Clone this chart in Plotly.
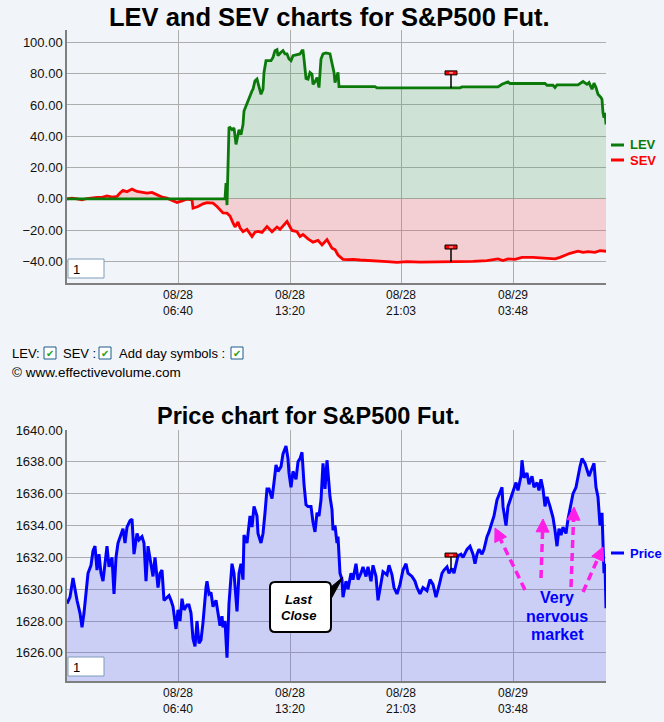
import numpy as np
import plotly.graph_objects as go

W, H = 664, 722

# ── Data ─────────────────────────────────────────────────────────
# x axis is bar index (one bar per column); ticks are labelled with the bar time
tick_idx = [111, 223, 334, 446]
tick_text = ['08/28<br>06:40', '08/28<br>13:20', '08/28<br>21:03', '08/29<br>03:48']

lev_idx = [0, 158, 159, 160, 162, 163, 165, 167, 169, 170,
           172, 174, 176, 177, 179, 181, 183, 185, 186, 188,
           190, 192, 194, 196, 197, 199, 201, 204, 206, 208,
           210, 211, 214, 216, 218, 220, 222, 224, 226, 228,
           230, 233, 235, 236, 237, 239, 241, 243, 245, 246,
           248, 250, 252, 254, 256, 259, 263, 265, 267, 268,
           270, 271, 272, 308, 310, 393, 395, 431, 435, 441,
           443, 478, 480, 486, 488, 490, 511, 515, 516, 520,
           522, 525, 527, 529, 531, 534, 535, 536, 537, 538, 539]
lev = [0, 0, 10, -4, 45.3, 45.6, 44.2, 45.3, 34.8, 37.8,
       44.2, 41.0, 47.5, 56.1, 59.3, 63.6, 66.8, 69.0, 70.0, 75.4,
       76.5, 71.3, 66.8, 70.0, 80.8, 88.3, 88.3, 88.3, 90.4, 94.7,
       95.4, 91.5, 93.7, 94.7, 92.6, 92.6, 89.4, 88.3, 91.5, 91.9,
       91.9, 92.6, 94.7, 94.7, 89.4, 76.9, 76.5, 80.8, 79.7, 73.2,
       74.8, 77.5, 71.1, 89.4, 92.6, 93.2, 92.6, 87.2, 80.8, 74.3,
       78.6, 80.8, 71.7, 71.7, 70.9, 70.9, 71.5, 71.5, 73.2, 74.7,
       73.7, 73.7, 72.6, 72.6, 71.1, 72.8, 72.8, 74.3, 75.0, 73.2,
       74.3, 70.0, 73.9, 71.1, 66.8, 64.7, 63.6, 55.0, 51.8, 55.0, 47.5]

sev_idx = [0, 5, 10, 15, 20, 25, 30, 35, 40, 45,
           50, 53, 56, 60, 65, 70, 75, 80, 85, 90,
           95, 100, 105, 110, 115, 120, 125, 126, 131, 136,
           140, 146, 150, 156, 160, 163, 166, 168, 171, 173,
           176, 180, 185, 188, 191, 195, 200, 205, 210, 213,
           220, 225, 230, 233, 236, 241, 246, 251, 255, 260,
           265, 268, 271, 276, 281, 286, 293, 300, 313, 320,
           330, 340, 353, 370, 386, 406, 420, 431, 436, 441,
           448, 455, 466, 480, 488, 493, 503, 511, 516, 521,
           528, 533, 539]
sev = [0, 0.4, 0, -0.6, 0.2, 0.6, 0.9, 0.9, 1.9, 1.1,
       1.5, 3.7, 5.4, 4.5, 6.2, 4.7, 4.3, 3.7, 4.1, 2.6,
       1.1, 0.4, -1.1, -2.4, -1.3, -0.2, -0.6, -6.0, -4.9, -3.2,
       -2.4, -2.8, -4.9, -9.0, -9.2, -11.0, -15.4, -18.0, -14.8, -18.5,
       -21.0, -19.5, -24.1, -21.3, -20.8, -21.5, -17.7, -21.0, -18.0, -19.5,
       -14.5, -20.2, -21.0, -24.1, -22.8, -25.6, -27.7, -26.6, -29.5, -26.0,
       -31.6, -32.5, -35.9, -38.7, -38.9, -38.7, -39.1, -39.5, -40.2, -40.2,
       -40.6, -40.2, -40.4, -40.4, -40.4, -40.0, -39.5, -38.4, -39.5, -38.4,
       -38.7, -37.4, -37.4, -37.8, -38.4, -37.4, -34.8, -33.5, -34.2, -33.7,
       -34.2, -33.1, -33.5]

price_idx = [0, 3, 6, 8, 10, 13, 15, 17, 19, 21,
             24, 26, 28, 30, 32, 34, 36, 38, 40, 42,
             45, 47, 49, 51, 54, 56, 58, 60, 63, 65,
             67, 70, 72, 75, 77, 79, 81, 84, 86, 88,
             91, 93, 95, 97, 100, 102, 104, 106, 109, 111,
             113, 115, 117, 120, 122, 124, 126, 128, 130, 132,
             134, 136, 139, 140, 142, 144, 146, 149, 151, 153,
             155, 156, 158, 160, 162, 164, 165, 167, 169, 170,
             172, 174, 176, 177, 180, 181, 183, 185, 187, 190,
             191, 194, 196, 198, 200, 202, 205, 207, 209, 211,
             214, 216, 219, 221, 222, 224, 226, 229, 231, 233,
             235, 237, 239, 241, 244, 246, 248, 250, 252, 254,
             256, 258, 260, 263, 265, 266, 268, 270, 271, 273,
             275, 276, 279, 281, 284, 286, 289, 291, 294, 296,
             299, 301, 304, 306, 309, 311, 314, 316, 320, 322,
             325, 327, 330, 333, 336, 339, 341, 345, 348, 350,
             353, 356, 360, 363, 366, 369, 372, 375, 377, 380,
             382, 385, 387, 389, 391, 394, 396, 400, 403, 406,
             408, 410, 412, 415, 417, 420, 422, 425, 427, 430,
             432, 435, 436, 439, 441, 444, 446, 449, 451, 454,
             455, 457, 460, 462, 465, 467, 470, 472, 474, 476,
             478, 480, 483, 486, 488, 490, 492, 494, 496, 499,
             501, 504, 506, 509, 511, 513, 515, 518, 520, 522,
             525, 527, 529, 531, 533, 535, 536, 537, 538, 539]
price = [1629.1, 1629.5, 1630.7, 1629.9, 1629.3, 1628.5, 1627.6, 1628.5, 1629.7, 1631.0,
         1631.5, 1632.4, 1632.7, 1631.2, 1632.2, 1631.0, 1630.5, 1631.6, 1632.7, 1631.4,
         1632.0, 1629.7, 1632.0, 1632.9, 1633.5, 1633.8, 1632.9, 1633.9, 1634.3, 1634.4,
         1632.2, 1633.5, 1633.1, 1633.3, 1632.9, 1630.5, 1632.7, 1631.4, 1630.8, 1632.0,
         1630.1, 1631.0, 1631.2, 1629.3, 1629.5, 1629.6, 1629.3, 1628.9, 1627.5, 1628.7,
         1628.0, 1629.4, 1628.7, 1629.0, 1629.0, 1628.5, 1626.9, 1626.4, 1628.0, 1626.6,
         1626.8, 1627.9, 1630.1, 1630.5, 1629.7, 1629.8, 1628.9, 1629.3, 1628.5, 1627.7,
         1628.3, 1627.6, 1628.0, 1625.7, 1629.1, 1631.1, 1631.6, 1631.0, 1629.3, 1628.6,
         1631.0, 1631.6, 1630.6, 1633.4, 1632.9, 1633.4, 1634.6, 1633.9, 1635.2, 1634.6,
         1633.5, 1632.9, 1633.5, 1634.8, 1636.3, 1636.3, 1635.7, 1636.7, 1637.8, 1637.4,
         1637.7, 1638.5, 1639.0, 1638.2, 1637.3, 1636.4, 1637.4, 1636.9, 1638.0, 1638.2,
         1638.6, 1636.6, 1635.3, 1635.2, 1635.2, 1634.2, 1633.6, 1634.8, 1634.6, 1635.6,
         1637.9, 1636.3, 1638.1, 1635.8, 1635.0, 1633.7, 1634.0, 1632.9, 1633.3, 1631.0,
         1630.6, 1629.5, 1630.5, 1630.0, 1631.0, 1630.6, 1631.6, 1630.6, 1631.0, 1631.4,
         1630.8, 1631.4, 1630.5, 1631.5, 1630.8, 1629.3, 1630.5, 1631.1, 1630.9, 1631.5,
         1630.9, 1630.1, 1629.7, 1630.3, 1631.2, 1631.6, 1631.0, 1630.8, 1630.5, 1630.1,
         1629.7, 1630.1, 1629.9, 1630.6, 1630.3, 1629.5, 1630.2, 1631.0, 1631.2, 1631.4,
         1631.0, 1631.3, 1631.0, 1631.6, 1632.1, 1632.2, 1632.0, 1632.5, 1632.7, 1632.2,
         1631.6, 1632.2, 1632.5, 1632.2, 1632.5, 1633.3, 1633.6, 1634.2, 1634.6, 1635.6,
         1635.9, 1636.4, 1635.2, 1634.0, 1635.2, 1635.8, 1636.2, 1636.7, 1636.2, 1637.1,
         1638.1, 1637.0, 1637.3, 1636.6, 1637.1, 1636.4, 1636.7, 1636.2, 1636.9, 1636.3,
         1635.2, 1635.8, 1635.2, 1634.5, 1633.7, 1632.7, 1633.8, 1633.4, 1633.9, 1633.5,
         1634.4, 1635.4, 1636.0, 1636.4, 1637.1, 1637.7, 1638.2, 1637.9, 1637.5, 1637.1,
         1637.6, 1637.9, 1636.4, 1635.8, 1634.0, 1634.8, 1632.9, 1631.0, 1631.6, 1628.8]

day_mark_idx = 384          # "add day symbols" flag position
ev_ticks = [-40, -20, 0, 20, 40, 60, 80, 100]
price_ticks = [1626, 1628, 1630, 1632, 1634, 1636, 1638, 1640]

# ── Style ────────────────────────────────────────────────────────
BG = '#F1F4F8'
GRID = '#ADADAD'
AXIS = '#7F7F7F'
FONT = 'Liberation Sans, Arial, sans-serif'
LEV_C, SEV_C, PRICE_C = '#0B7A0B', '#FF0000', '#0000FF'
MAGENTA = '#FF1EE8'


def px(x):
    return x / W


def py(y):
    return 1 - y / H


def axis_x(domain, anchor):
    return dict(domain=domain, anchor=anchor, range=[0, 539],
                tickvals=tick_idx, ticktext=tick_text,
                showgrid=True, gridcolor=GRID, gridwidth=1,
                showline=True, linecolor=AXIS, linewidth=1.5,
                zeroline=False, ticks='', fixedrange=True,
                tickfont=dict(size=12, color='#111111'))


def axis_y(domain, anchor, rng, tickvals):
    return dict(domain=domain, anchor=anchor, range=rng,
                tickvals=tickvals, tickformat='.2f',
                showgrid=True, gridcolor=GRID, gridwidth=1,
                showline=True, linecolor=AXIS, linewidth=1.5,
                zeroline=False, ticks='', fixedrange=True,
                tickfont=dict(size=13, color='#111111'))


fig = go.Figure()
fig.add_trace(go.Scatter(
    x=sev_idx, y=sev, xaxis='x', yaxis='y', mode='lines', name='SEV',
    line=dict(color=SEV_C, width=2.8), fill='tozeroy',
    fillcolor='rgba(255,59,63,0.2)', hoverinfo='skip',
))
fig.add_trace(go.Scatter(
    x=lev_idx, y=lev, xaxis='x', yaxis='y', mode='lines', name='LEV',
    line=dict(color=LEV_C, width=2.8), fill='tozeroy',
    fillcolor='rgba(71,159,73,0.2)', hoverinfo='skip',
))
fig.add_trace(go.Scatter(
    x=price_idx, y=price, xaxis='x2', yaxis='y2', mode='lines', name='Price',
    line=dict(color=PRICE_C, width=3), fill='tozeroy',
    fillcolor='rgba(93,92,236,0.25)', hoverinfo='skip',
))

shapes = []
annotations = []


def day_symbol(xref, yref, yval):
    common = dict(xref=xref, yref=yref, xsizemode='pixel', ysizemode='pixel',
                  xanchor=day_mark_idx, yanchor=yval)
    return [
        dict(type='line', x0=0, x1=0, y0=0, y1=14,
             line=dict(color='black', width=1.5), **common),
        dict(type='rect', x0=-6, x1=6, y0=13, y1=17, fillcolor='#FF0000',
             line=dict(color='black', width=1), **common),
        dict(type='rect', x0=-2, x1=2, y0=14.6, y1=15.4, fillcolor='white',
             line=dict(width=0), **common),
    ]


shapes += day_symbol('x', 'y', float(np.interp(day_mark_idx, lev_idx, lev)))
shapes += day_symbol('x', 'y', float(np.interp(day_mark_idx, sev_idx, sev)))
shapes += day_symbol('x2', 'y2', float(np.interp(day_mark_idx, price_idx, price)))

# "1" input boxes
for top in (259, 657):
    shapes.append(dict(type='rect', xref='paper', yref='paper',
                       x0=px(68), x1=px(104), y0=py(top + 19), y1=py(top),
                       fillcolor='white', line=dict(color='#7F9DB9', width=1)))
    annotations.append(dict(x=px(71), y=py(top + 10), xref='paper', yref='paper',
                            text='1', showarrow=False, xanchor='left', yanchor='middle',
                            font=dict(family=FONT, size=13, color='black')))

# legend keys
for label, color, ycen in (('LEV', LEV_C, 145), ('SEV', SEV_C, 160), ('Price', PRICE_C, 553)):
    shapes.append(dict(type='line', xref='paper', yref='paper',
                       x0=px(611), x1=px(624), y0=py(ycen), y1=py(ycen),
                       line=dict(color=color, width=3)))
    annotations.append(dict(x=px(628), y=py(ycen), xref='paper', yref='paper',
                            text=f'<b>{label}</b>', showarrow=False,
                            xanchor='left', yanchor='middle',
                            font=dict(family=FONT, size=13, color=color)))

# titles
for text, xc, yc, size in (('LEV and SEV charts for S&P500 Fut.', 329, 17, 25.5),
                           ('Price chart for S&P500 Fut.', 308, 416, 23.5)):
    annotations.append(dict(x=px(xc), y=py(yc), xref='paper', yref='paper',
                            text=f'<b>{text}</b>', showarrow=False,
                            xanchor='center', yanchor='middle',
                            font=dict(family=FONT, size=size, color='black')))

# option row between the charts
for text, x0 in (('LEV:', 10), ('SEV :', 61), ('Add day symbols :', 117)):
    annotations.append(dict(x=px(x0), y=py(353), xref='paper', yref='paper',
                            text=text, showarrow=False, xanchor='left', yanchor='middle',
                            font=dict(family=FONT, size=13, color='black')))
for x0 in (44, 99, 231):
    shapes.append(dict(type='rect', xref='paper', yref='paper',
                       x0=px(x0), x1=px(x0 + 12), y0=py(359), y1=py(347),
                       fillcolor='white', line=dict(color='#1C5A8C', width=1)))
    annotations.append(dict(x=px(x0 + 6), y=py(353), xref='paper', yref='paper',
                            text='✔', showarrow=False, xanchor='center', yanchor='middle',
                            font=dict(family='DejaVu Sans', size=10, color='#21A121')))
annotations.append(dict(x=px(10), y=py(372), xref='paper', yref='paper',
                        text='© www.effectivevolume.com', showarrow=False,
                        xanchor='left', yanchor='middle',
                        font=dict(family=FONT, size=13.5, color='black')))

# "Last Close" callout
bx0, by0, bx1, by1, r = 270, 582, 331, 632, 5
path = (f'M {px(bx0 + r)} {py(by0)} L {px(bx1 - r)} {py(by0)} '
        f'Q {px(bx1)} {py(by0)} {px(bx1)} {py(by0 + r)} L {px(bx1)} {py(by1 - r)} '
        f'Q {px(bx1)} {py(by1)} {px(bx1 - r)} {py(by1)} L {px(bx0 + r)} {py(by1)} '
        f'Q {px(bx0)} {py(by1)} {px(bx0)} {py(by1 - r)} L {px(bx0)} {py(by0 + r)} '
        f'Q {px(bx0)} {py(by0)} {px(bx0 + r)} {py(by0)} Z')
shapes.append(dict(type='path', xref='paper', yref='paper', path=path,
                   fillcolor='white', line=dict(color='black', width=2)))
shapes.append(dict(type='path', xref='paper', yref='paper',
                   path=f'M {px(331)} {py(587)} L {px(343)} {py(577)} L {px(331)} {py(599)} Z',
                   fillcolor='black', line=dict(color='black', width=1)))
for text, yc in (('Last', 599), ('Close', 615)):
    annotations.append(dict(x=px(298), y=py(yc), xref='paper', yref='paper',
                            text=f'<b><i>{text}</i></b>', showarrow=False,
                            xanchor='center', yanchor='middle',
                            font=dict(family=FONT, size=13, color='black')))

# "Very nervous market" note with dashed arrows
for text, yc in (('Very', 597), ('nervous', 616), ('market', 634)):
    annotations.append(dict(x=px(557), y=py(yc), xref='paper', yref='paper',
                            text=f'<b>{text}</b>', showarrow=False,
                            xanchor='center', yanchor='middle',
                            font=dict(family=FONT, size=16, color=PRICE_C)))

arrows = [((525, 590), (495, 528)), ((541, 578), (543, 519)),
          ((571, 587), (574, 507)), ((583, 592), (603, 547))]
for (tx, ty), (hx, hy) in arrows:
    d = np.array([hx - tx, hy - ty], dtype=float)
    u = d / np.hypot(*d)
    n = np.array([-u[1], u[0]])
    tip = np.array([hx, hy], dtype=float)
    end = tip - u * 10
    shapes.append(dict(type='line', xref='paper', yref='paper',
                       x0=px(tx), y0=py(ty), x1=px(end[0]), y1=py(end[1]),
                       line=dict(color=MAGENTA, width=3.5, dash='8px,5px')))
    b1 = tip - u * 13 + n * 6.5
    b2 = tip - u * 13 - n * 6.5
    shapes.append(dict(type='path', xref='paper', yref='paper',
                       path=(f'M {px(tip[0])} {py(tip[1])} L {px(b1[0])} {py(b1[1])} '
                             f'L {px(b2[0])} {py(b2[1])} Z'),
                       fillcolor=MAGENTA, line=dict(color=MAGENTA, width=1)))

fig.update_layout(
    width=W, height=H,
    paper_bgcolor=BG, plot_bgcolor=BG,
    font=dict(family=FONT, size=13, color='black'),
    margin=dict(l=0, r=0, t=0, b=0, autoexpand=False),
    showlegend=False,
    xaxis=axis_x([px(67), px(606)], 'y'),
    yaxis=axis_y([py(283), py(30)], 'x', [-53.8, 107.9], ev_ticks),
    xaxis2=axis_x([px(67), px(606)], 'y2'),
    yaxis2=axis_y([py(681), py(430)], 'x2', [1624.23, 1640], price_ticks),
    shapes=shapes,
    annotations=annotations,
)

fig.write_html("out.html", config={'displayModeBar': False},
               post_script="document.body.style.margin='0';document.body.style.overflow='hidden';")
